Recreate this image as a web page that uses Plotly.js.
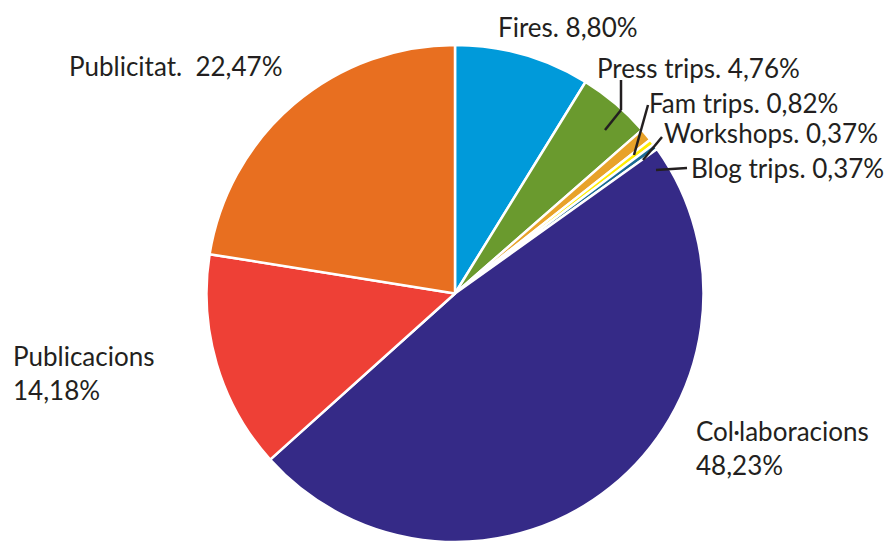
<!DOCTYPE html>
<html><head><meta charset="utf-8">
<script src="https://cdn.plot.ly/plotly-3.0.1.min.js"></script>
<style>html,body{margin:0;padding:0;background:#fff}#chart{width:893px;height:542px}</style>
</head><body><div id="chart"></div>
<script>
const categories = ["Fires","Press trips","Fam trips","Workshops","Blog trips","Col·laboracions","Publicacions","Publicitat"];
const values = [8.80, 4.76, 0.82, 0.37, 0.37, 48.23, 14.18, 22.47];
const labelTexts = ["Fires. 8,80%","Press trips. 4,76%","Fam trips. 0,82%","Workshops. 0,37%","Blog trips. 0,37%","Col·laboracions<br>48,23%","Publicacions<br>14,18%","Publicitat.  22,47%"];
const colors = ["#009ADA","#6A9A2E","#E8A22A","#FFED00","#1A6A93","#352A87","#EE4036","#E86F20"];

const W = 893, H = 542;
const px = x => x / W, py = y => 1 - y / H;
// label anchor positions (pixels, left/middle)
const labelPos = [[496,27],[595,68],[647,103],[662,133],[689,168],[694,448],[11,373],[67,66]];
const FONT = {family: "Lato, 'Noto Sans', sans-serif", size: 26, color: "#231f20"};

const annotations = labelTexts.map((t, i) => ({
  xref: "paper", yref: "paper", x: px(labelPos[i][0]), y: py(labelPos[i][1]),
  xanchor: "left", yanchor: "middle", align: "left", showarrow: false, text: t, font: FONT
}));

const leaders = [
  [[621,80],[621,110],[605,130]],
  [[648,105],[634,155]],
  [[662,137],[643,160]],
  [[687,168],[656,170]]
];
const shapes = [];
leaders.forEach(pts => {
  for (let k = 0; k < pts.length - 1; k++) {
    shapes.push({type: "line", xref: "paper", yref: "paper",
      x0: px(pts[k][0]), y0: py(pts[k][1]), x1: px(pts[k+1][0]), y1: py(pts[k+1][1]),
      line: {color: "#231f20", width: 2.5}});
  }
});

Plotly.newPlot("chart", [{
  type: "pie", labels: categories, values: values, sort: false, direction: "clockwise", rotation: 0,
  marker: {colors: colors, line: {color: "#ffffff", width: 2.5}},
  textinfo: "none", hoverinfo: "label+percent",
  domain: {x: [205/W, 705/W], y: [0, 1 - 45/H]}
}], {
  width: W, height: H, margin: {l: 0, r: 0, t: 0, b: 0},
  showlegend: false, paper_bgcolor: "#ffffff",
  annotations: annotations, shapes: shapes
}, {displayModeBar: false, staticPlot: true});
</script></body></html>
